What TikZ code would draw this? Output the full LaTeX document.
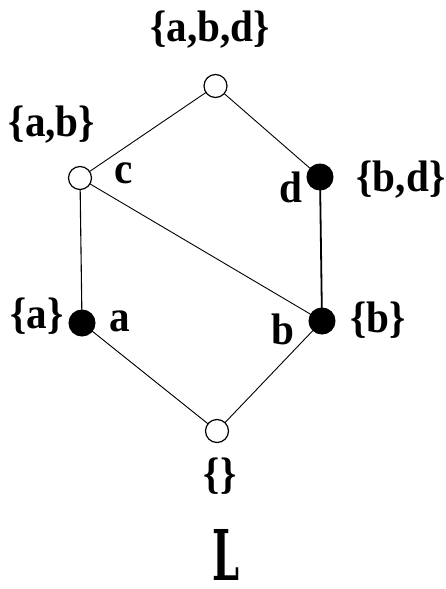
\documentclass[tikz,border=0pt]{standalone}
\usepackage{fontspec}
\usepackage{graphicx}
\newfontfamily\lblfont{Liberation Serif}
\newfontfamily\bigLfont{DejaVu Serif}[FakeStretch=0.55]
\newcommand{\lbl}[1]{\scalebox{0.98}[1.05]{#1}}
\tikzset{
  opennode/.style={circle, draw=black, line width=1.2pt, fill=white, minimum size=23pt, inner sep=0pt},
  fullnode/.style={circle, draw=black, line width=1pt, fill=black, minimum size=26pt, inner sep=0pt},
  lbltext/.style={font=\lblfont\bfseries\fontsize{42}{42}\selectfont, inner sep=0pt, text=black},
  bigtext/.style={font=\bigLfont\bfseries\fontsize{70}{70}\selectfont, inner sep=0pt, text=black},
  edge/.style={line width=0.9pt, draw=black},
}
\begin{document}
\begin{tikzpicture}[x=1pt,y=-1pt]
\useasboundingbox (0,0) rectangle (446,589);
\fill[white] (0,0) rectangle (446,589);
% vertices
\coordinate (Ptop) at (215.5,86);
\coordinate (Pab) at (80,178);
\coordinate (Pbd) at (320,177);
\coordinate (Pa) at (82,323);
\coordinate (Pb) at (322,321);
\coordinate (Pbot) at (217,431);
% edges
\draw[edge] (Ptop) -- (Pab);
\draw[edge] (Ptop) -- (Pbd);
\draw[edge] (Pab) -- (Pb);
\draw[line width=1.1pt] (Pab) -- (Pa);
\draw[line width=1.8pt] (Pbd) -- (Pb);
\draw[edge] (Pa) -- (Pbot);
\draw[edge] (Pb) -- (Pbot);
% nodes
\node[opennode] (top) at (Ptop) {};
\node[opennode] (ab) at (Pab) {};
\node[fullnode] (bd) at (Pbd) {};
\node[fullnode] (a) at (Pa) {};
\node[fullnode] (b) at (Pb) {};
\node[opennode] (bot) at (Pbot) {};
% labels
\node[lbltext] (Ltop) at (210,30) {\lbl{\{a,b,d\}}};
\node[lbltext] (Lab) at (52,125) {\lbl{\{a,b\}}};
\node[lbltext] (Lbd) at (401,180) {\lbl{\{b,d\}}};
\node[lbltext] (La) at (37,316) {\lbl{\{a\}}};
\node[lbltext] (Lb) at (378,320) {\lbl{\{b\}}};
\node[lbltext] (Lbot) at (220,476) {\lbl{\{\}}};
\node[lbltext] (lc) at (124,173) {\lbl{c}};
\node[lbltext] (ld) at (291,187) {\lbl{d}};
\node[lbltext] (la) at (120,321) {\lbl{a}};
\node[lbltext] (lb) at (283,329) {\lbl{b}};
\node[bigtext, anchor=base] (LL) at (226,580) {L};
\end{tikzpicture}
\end{document}
